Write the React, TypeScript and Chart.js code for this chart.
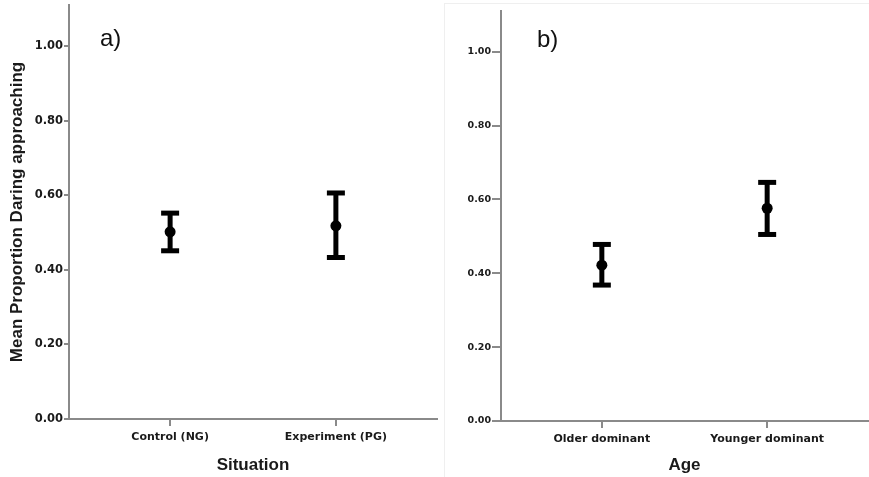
import React, { useEffect, useRef } from "react";
import { Chart, registerables } from "chart.js";

Chart.register(...registerables);

const situationCategories = ["Control (NG)", "Experiment (PG)"];
const situationMeans = [0.502, 0.518];
const situationLower = [0.451, 0.433];
const situationUpper = [0.552, 0.606];

const ageCategories = ["Older dominant", "Younger dominant"];
const ageMeans = [0.422, 0.576];
const ageLower = [0.368, 0.505];
const ageUpper = [0.478, 0.646];

const yMin = 0;
const yMax = 1.11;
const yStep = 0.2;

type PanelCfg = {
  categories: string[];
  means: number[];
  lower: number[];
  upper: number[];
  xTitle: string;
  yTitle: string | null;
  panelLabel: string;
  labelX: number;
  labelY: number;
  yAxisWidth: number;
  xAxisHeight: number;
  padTop: number;
  padRight: number;
  yTickSize: number;
  yTickLen: number;
};

function zeroPad(axis: any) {
  axis.paddingTop = 0;
  axis.paddingBottom = 0;
  axis.paddingLeft = 0;
  axis.paddingRight = 0;
}

function buildConfig(p: PanelCfg): any {
  const datasets: any[] = [
    {
      data: p.means.map((m, i) => ({ x: i + 1, y: m })),
      pointRadius: 5.5,
      pointStyle: "circle",
      pointBackgroundColor: "#000",
      pointBorderColor: "#000",
      pointBorderWidth: 0,
      showLine: false,
    },
  ];
  p.categories.forEach((_, i) => {
    datasets.push({
      data: [
        { x: i + 1, y: p.lower[i] },
        { x: i + 1, y: p.upper[i] },
      ],
      showLine: true,
      borderColor: "#000",
      borderWidth: 5,
      pointStyle: "line",
      pointRadius: 9,
      pointBorderWidth: 5,
      pointBorderColor: "#000",
      pointBackgroundColor: "#000",
    });
  });

  const labelPlugin = {
    id: "panelLabel",
    afterDraw(chart: any) {
      const ctx = chart.ctx;
      ctx.save();
      ctx.font = '24px "Liberation Sans", Arial, sans-serif';
      ctx.fillStyle = "#111";
      ctx.textBaseline = "alphabetic";
      ctx.fillText(p.panelLabel, p.labelX, p.labelY);
      ctx.restore();
    },
  };

  return {
    type: "scatter",
    data: { datasets },
    plugins: [labelPlugin],
    options: {
      animation: false,
      responsive: false,
      maintainAspectRatio: false,
      layout: {
        autoPadding: false,
        padding: { left: 0, right: p.padRight, top: p.padTop, bottom: 0 },
      },
      plugins: { legend: { display: false }, tooltip: { enabled: false } },
      scales: {
        x: {
          type: "linear",
          min: 0.39,
          max: 2.61,
          afterBuildTicks: (axis: any) => {
            axis.ticks = p.categories.map((_, i) => ({ value: i + 1 }));
          },
          afterFit: (axis: any) => {
            axis.height = p.xAxisHeight;
            zeroPad(axis);
          },
          ticks: {
            autoSkip: false,
            maxRotation: 0,
            padding: 5,
            color: "#1a1a1a",
            font: { family: '"DejaVu Sans", sans-serif', size: 11, weight: "bold" },
            callback: (v: any) => p.categories[Math.round(Number(v)) - 1] ?? "",
          },
          grid: {
            display: true,
            drawOnChartArea: false,
            drawTicks: true,
            tickLength: 7,
            color: "#8a8a8a",
            lineWidth: 2,
          },
          border: { display: true, color: "#8a8a8a", width: 2 },
          title: {
            display: true,
            text: p.xTitle,
            color: "#1a1a1a",
            font: { family: '"Liberation Sans", Arial, sans-serif', size: 17, weight: "bold" },
            padding: { top: 0, bottom: 1 },
          },
        },
        y: {
          type: "linear",
          min: yMin,
          max: yMax,
          afterFit: (axis: any) => {
            axis.width = p.yAxisWidth;
            zeroPad(axis);
          },
          ticks: {
            stepSize: yStep,
            includeBounds: false,
            padding: 1,
            color: "#1a1a1a",
            font: { family: '"DejaVu Sans", sans-serif', size: p.yTickSize, weight: "bold" },
            callback: (v: any) => Number(v).toFixed(2),
          },
          grid: {
            display: true,
            drawOnChartArea: false,
            drawTicks: true,
            tickLength: p.yTickLen,
            color: "#8a8a8a",
            lineWidth: 2,
          },
          border: { display: true, color: "#8a8a8a", width: 2 },
          title: {
            display: p.yTitle !== null,
            text: p.yTitle ?? "",
            color: "#1a1a1a",
            font: { family: '"Liberation Sans", Arial, sans-serif', size: 17, weight: "bold" },
            padding: { top: 7, bottom: 0 },
          },
        },
      },
    },
  };
}

function Panel(props: { cfg: PanelCfg; width: number; height: number }) {
  const ref = useRef<HTMLCanvasElement | null>(null);
  useEffect(() => {
    if (!ref.current) return;
    const chart = new Chart(ref.current, buildConfig(props.cfg));
    return () => chart.destroy();
  }, []);
  return (
    <canvas
      ref={ref}
      width={props.width}
      height={props.height}
      style={{ display: "block", width: props.width, height: props.height }}
    />
  );
}

const panelA: PanelCfg = {
  categories: situationCategories,
  means: situationMeans,
  lower: situationLower,
  upper: situationUpper,
  xTitle: "Situation",
  yTitle: "Mean Proportion Daring approaching",
  panelLabel: "a)",
  labelX: 100,
  labelY: 46,
  yAxisWidth: 69,
  xAxisHeight: 58,
  padTop: 5,
  padRight: 3,
  yTickSize: 11.5,
  yTickLen: 5,
};

const panelB: PanelCfg = {
  categories: ageCategories,
  means: ageMeans,
  lower: ageLower,
  upper: ageUpper,
  xTitle: "Age",
  yTitle: null,
  panelLabel: "b)",
  labelX: 97,
  labelY: 47,
  yAxisWidth: 61,
  xAxisHeight: 56,
  padTop: 11,
  padRight: 1,
  yTickSize: 9.5,
  yTickLen: 9,
};

export default function App() {
  return (
    <div
      style={{
        position: "fixed",
        left: 0,
        top: 0,
        width: 869,
        height: 477,
        background: "#fff",
        overflow: "hidden",
      }}
    >
      <div
        style={{
          position: "absolute",
          left: 444,
          top: 3,
          width: 440,
          height: 480,
          borderTop: "1px solid #efefef",
          borderLeft: "1px solid #efefef",
        }}
      />
      <div style={{ position: "absolute", left: 0, top: 0 }}>
        <Panel cfg={panelA} width={440} height={477} />
      </div>
      <div style={{ position: "absolute", left: 440, top: 0 }}>
        <Panel cfg={panelB} width={429} height={477} />
      </div>
    </div>
  );
}
